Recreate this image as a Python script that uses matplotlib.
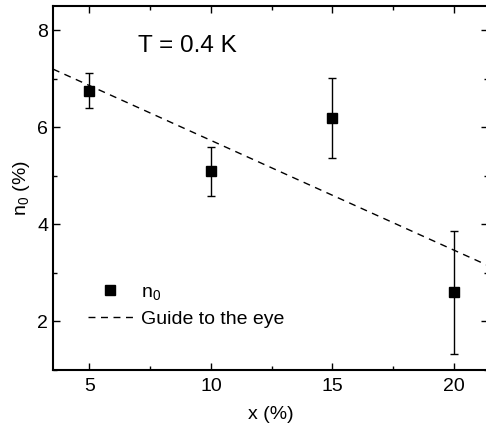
import matplotlib.pyplot as plt
from matplotlib.lines import Line2D
from matplotlib.ticker import MultipleLocator

plt.rcParams['font.family'] = ['Liberation Sans', 'DejaVu Sans']
plt.rcParams['mathtext.fontset'] = 'custom'
plt.rcParams['mathtext.rm'] = 'Liberation Sans'
plt.rcParams['mathtext.it'] = 'Liberation Sans'

x_pct = [5, 10, 15, 20]
n0 = [6.75, 5.09, 6.19, 2.60]
n0_err = [0.36, 0.50, 0.83, 1.27]

# guide line endpoints
guide_x = [3.5, 21.5]
guide_y = [7.20, 3.13]

fig = plt.figure(figsize=(4.86, 4.30), dpi=100)
ax = fig.add_axes([53 / 486, 60 / 430, 435 / 486, 364 / 430])

ax.errorbar(x_pct, n0, yerr=n0_err, fmt='s', color='black', ms=6.5,
            capsize=3, elinewidth=1.0, capthick=1.0)
ax.plot(guide_x, guide_y, color='black', lw=1.0, dashes=(5, 4))

ax.text(7.0, 7.67, 'T = 0.4 K', fontsize=17.5, va='center')

ax.set_xlim(3.5, 21.4)
ax.set_ylim(1.0, 8.5)
ax.xaxis.set_major_locator(MultipleLocator(5))
ax.xaxis.set_minor_locator(MultipleLocator(2.5))
ax.yaxis.set_major_locator(MultipleLocator(2))
ax.yaxis.set_minor_locator(MultipleLocator(1))
ax.tick_params(which='both', direction='in', top=True, right=True, labelsize=14)
ax.tick_params(axis='x', pad=6)
ax.tick_params(which='major', length=5, width=1)
ax.tick_params(which='minor', length=3, width=1)
for s in ax.spines.values():
    s.set_linewidth(1.5)

ax.set_xlabel('x (%)', fontsize=14, labelpad=8)
ax.set_ylabel('n$_0$ (%)', fontsize=14)

handles = [
    Line2D([], [], marker='s', ls='none', color='black', ms=6.5),
    Line2D([], [], color='black', lw=1.0, dashes=(5, 4)),
]
ax.legend(handles, ['n$_0$', 'Guide to the eye'], loc='lower left',
          bbox_to_anchor=(35 / 435, 0.115), borderpad=0, borderaxespad=0,
          frameon=False, fontsize=14, handlelength=2.3, handletextpad=0.45,
          labelspacing=0.45)

fig.savefig('out.png', dpi=100)
